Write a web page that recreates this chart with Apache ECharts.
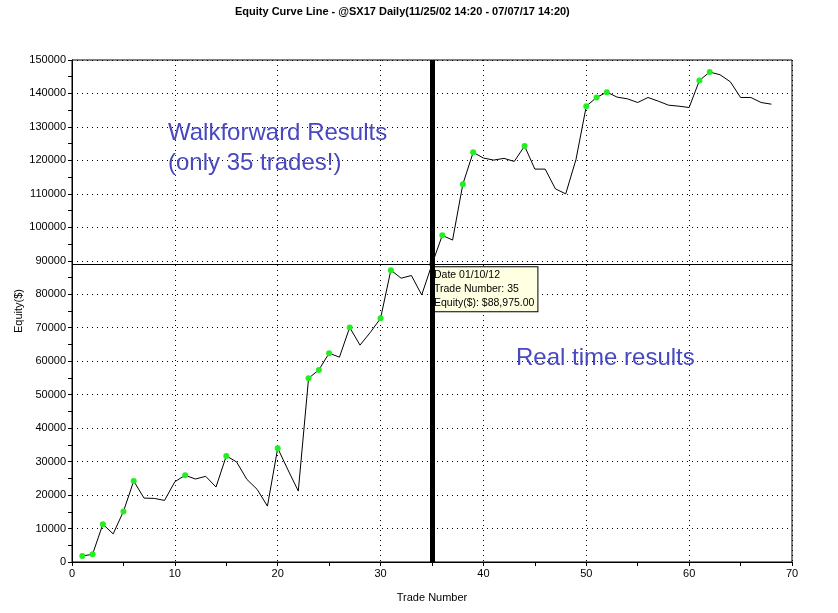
<!DOCTYPE html>
<html>
<head>
<meta charset="utf-8">
<script src="https://cdn.jsdelivr.net/npm/echarts@6/dist/echarts.min.js"></script>
<style>
html,body{margin:0;padding:0;background:#fff;}
#chart{width:838px;height:613px;}
</style>
</head>
<body>
<div id="chart"></div>
<script>
// Trade-by-trade cumulative equity ($), trade numbers 1..68
var equity = [
  1800, 2300, 11300, 8400, 15100, 24200, 19100, 19000, 18400, 24000,
  25900, 24800, 25600, 22400, 31700, 29900, 24700, 21700, 16700, 34000,
  27500, 21200, 54900, 57400, 62400, 61200, 70100, 64800, 68600, 72800,
  87200, 84800, 85600, 79800, 88975, 97600, 96200, 112900, 122400, 120700,
  120100, 120600, 119700, 124300, 117400, 117400, 111500, 110000, 120300, 136200,
  138800, 140400, 138900, 138400, 137300, 138800, 137700, 136500, 136200, 135800,
  143900, 146400, 145600, 143500, 138800, 138800, 137300, 136800
];
var splitTrade = 35;
var splitDate = '01/10/12';
var titleText = 'Equity Curve Line - @SX17 Daily(11/25/02 14:20 - 07/07/17 14:20)';
var noteLeft = ['Walkforward Results', '(only 35 trades!)'];
var noteRight = 'Real time results';

var FONT = 'Liberation Sans, Arial, sans-serif';

// points: green marker on each new equity high
var runMax = -Infinity;
var lineData = equity.map(function (v, i) {
  var isHigh = v > runMax;
  if (isHigh) runMax = v;
  return { value: [i + 1, v], symbol: isHigh ? 'circle' : 'none' };
});
var splitEq = equity[splitTrade - 1];

function fmtMoney(v) {
  return '$' + v.toFixed(2).replace(/\B(?=(\d{3})+(?!\d))/g, ',');
}

var chart = echarts.init(document.getElementById('chart'), null, { renderer: 'canvas' });
var option = {
  backgroundColor: '#ffffff',
  animation: false,
  title: {
    text: titleText,
    left: 235,
    top: 6,
    padding: 0,
    textStyle: { fontFamily: FONT, fontSize: 11, fontWeight: 'bold', color: '#000' }
  },
  grid: {
    left: 72, right: 46, top: 60, bottom: 51,
    outerBoundsMode: 'none', containLabel: false,
    show: true, borderColor: '#000', borderWidth: 1, backgroundColor: 'transparent'
  },
  xAxis: {
    type: 'value', min: 0, max: 70, interval: 10,
    name: 'Trade Number', nameLocation: 'middle', nameGap: 30,
    nameTextStyle: { fontFamily: FONT, fontSize: 11, color: '#000' },
    axisLine: { show: true, onZero: false, lineStyle: { color: '#000', width: 1 } },
    axisTick: { show: true, length: 4, lineStyle: { color: '#000' } },
    minorTick: { show: true, splitNumber: 2, length: 4, lineStyle: { color: '#000' } },
    axisLabel: { fontFamily: FONT, fontSize: 11, color: '#000', margin: 6 },
    splitLine: { show: true, lineStyle: { color: '#000', width: 1, type: [1, 4] } }
  },
  yAxis: {
    type: 'value', min: 0, max: 150000, interval: 10000,
    name: 'Equity($)', nameLocation: 'middle', nameGap: 48, nameRotate: 90,
    nameMoveOverlap: false,
    nameTextStyle: { fontFamily: FONT, fontSize: 11, color: '#000' },
    axisLine: { show: true, onZero: false, lineStyle: { color: '#000', width: 1 } },
    axisTick: { show: true, length: 4, lineStyle: { color: '#000' } },
    minorTick: { show: true, splitNumber: 2, length: 4, lineStyle: { color: '#000' } },
    axisLabel: {
      fontFamily: FONT, fontSize: 11, color: '#000', margin: 6,
      formatter: function (v) { return String(v); }
    },
    splitLine: { show: true, lineStyle: { color: '#000', width: 1, type: [1, 4] } }
  },
  series: [
    {
      type: 'line',
      data: lineData,
      showSymbol: true,
      symbolSize: 6,
      itemStyle: { color: '#22ee22', borderWidth: 0 },
      lineStyle: { color: '#000', width: 1 },
      z: 3,
      markLine: {
        silent: true,
        symbol: 'none',
        label: { show: false },
        data: [
          { yAxis: splitEq, lineStyle: { color: '#000', width: 1, type: 'solid' } },
          { xAxis: splitTrade, lineStyle: { color: '#000', width: 5, type: 'solid' } }
        ],
        z: 5
      },
      markPoint: {
        silent: true,
        symbol: 'rect',
        symbolSize: 0,
        data: [{ coord: [splitTrade, splitEq] }],
        label: {
          show: true,
          position: [-1, 3],
          align: 'left',
          verticalAlign: 'top',
          formatter: function () {
            return 'Date ' + splitDate + '\nTrade Number: ' + splitTrade + '\nEquity($): ' + fmtMoney(splitEq);
          },
          fontFamily: FONT,
          fontSize: 10.5,
          lineHeight: 14,
          color: '#000',
          backgroundColor: '#ffffe1',
          borderColor: '#000',
          borderWidth: 1,
          padding: [1, 3, 1, 3]
        },
        z: 4
      }
    }
  ],
  graphic: [
    {
      type: 'text', left: 168, top: 121, z: 20,
      style: { text: noteLeft[0], fontFamily: FONT, fontSize: 24, fill: '#4848c0' }
    },
    {
      type: 'text', left: 168, top: 151, z: 20,
      style: { text: noteLeft[1], fontFamily: FONT, fontSize: 24, fill: '#4848c0' }
    },
    {
      type: 'text', left: 516, top: 346, z: 20,
      style: { text: noteRight, fontFamily: FONT, fontSize: 24, fill: '#4848c0' }
    }
  ]
};
chart.setOption(option);
</script>
</body>
</html>
